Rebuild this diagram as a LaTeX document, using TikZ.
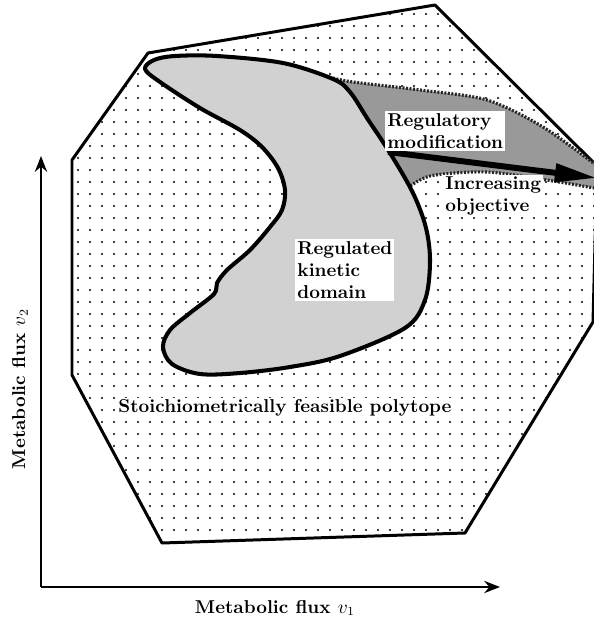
\documentclass[tikz,border=0pt]{standalone}
\usetikzlibrary{arrows.meta}

\tikzset{
  lbl/.style={font=\fontsize{10.6}{12.6}\selectfont\bfseries, fill=white, align=left, inner sep=1.2pt},
  axislbl/.style={font=\fontsize{10.6}{12.6}\selectfont\bfseries},
  axis/.style={line width=1.1pt, -{Stealth[length=9pt,width=7pt]}},
  rim/.style={line width=1.7pt, line join=round},
  hatch/.style={line width=1.8pt, dash pattern=on 1.1pt off 0.9pt, black!85},
}

\begin{document}
\begin{tikzpicture}[x=0.02cm, y=-0.02cm]
  \useasboundingbox (0,0) rectangle (594,620);
  \clip (0,0) rectangle (594,620);

  % Corners of the feasible polytope, clockwise from upper left
  \coordinate (p1) at (148,53);
  \coordinate (p2) at (435,5);
  \coordinate (p3) at (597,166);
  \coordinate (p4) at (593,322);
  \coordinate (p5) at (465,533);
  \coordinate (p6) at (162,543);
  \coordinate (p7) at (72,375);
  \coordinate (p8) at (72,160);

  % Axes
  \coordinate (o) at (41,587);
  \coordinate (ytop) at (41,156);
  \coordinate (xend) at (500,587);

  % Dotted interior
  \begin{scope}
    \clip (p1) -- (p2) -- (p3) -- (p4) -- (p5) -- (p6) -- (p7) -- (p8) -- cycle;
    \foreach \x in {6,18,...,594}
      \foreach \y in {2,14,...,554}
        \fill (\x,\y) circle (0.6pt);
  \end{scope}
  \draw[rim] (p1) -- (p2) -- (p3) -- (p4) -- (p5) -- (p6) -- (p7) -- (p8) -- cycle;

  % Regulatory modification band
  \fill[black!40] plot[smooth] coordinates {(333,78) (353,82) (420,90) (487,100) (543,127) (600,168)}
    -- plot[smooth] coordinates {(605,190) (553,181) (487,172) (430,176) (405,190)} -- cycle;
  \draw[hatch] plot[smooth] coordinates {(333,78) (353,82) (420,90) (487,100) (543,127) (600,168)};
  \draw[hatch] plot[smooth] coordinates {(605,190) (553,181) (487,172) (430,176) (405,190)};

  % Regulated kinetic domain
  \filldraw[fill=black!18, line width=2.3pt, line join=round]
    plot[smooth cycle, tension=0.55] coordinates {
      (145,69) (154,60) (175,56) (217,56) (283,63) (333,79) (350,92)
      (367,118) (390,153) (413,193) (426,228) (430,262) (425,300) (405,328)
      (340,356) (290,367) (240,373) (200,374) (172,364) (163,347) (170,330)
      (190,313) (214,294) (217,283) (227,270) (250,250) (270,227) (282,210)
      (285,190) (278,168) (262,147) (240,130) (200,108) (160,82)};

  % Regulatory arrow
  \coordinate (armstart) at (388,152);
  \coordinate (armtip) at (597,178);
  \draw[line width=3.4pt, -{Triangle[length=24pt,width=10pt]}] (armstart) -- (armtip);

  % Labels
  \node[lbl, anchor=west] (lblreg) at (385,131) {Regulatory\\modification};
  \node[lbl, anchor=west] (lblinc) at (443,196) {Increasing\\objective};
  \node[lbl, anchor=west] (lblkin) at (295,270) {Regulated\\kinetic\\domain};
  \node[lbl] (lblpoly) at (285,408) {Stoichiometrically feasible polytope};

  \draw[axis] (o) -- (ytop);
  \draw[axis] (o) -- (xend);
  \node[axislbl] (lblx) at (275,608) {Metabolic flux $v_1$};
  \node[axislbl, rotate=90] (lbly) at (20,389) {Metabolic flux $v_2$};
\end{tikzpicture}
\end{document}
